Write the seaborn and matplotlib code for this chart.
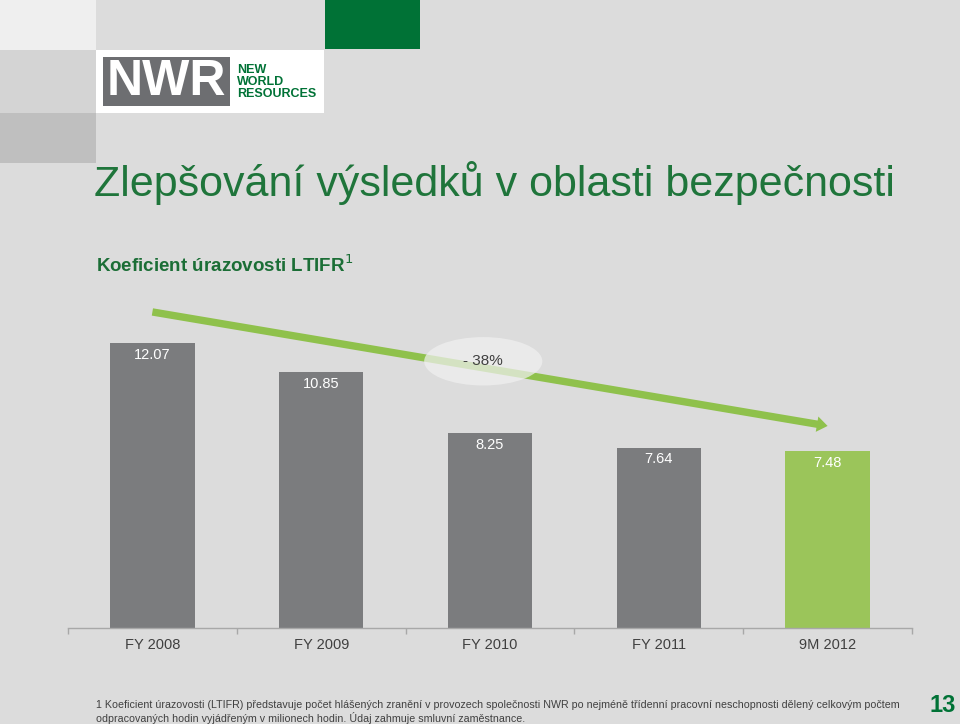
import matplotlib
matplotlib.use('Agg')
import matplotlib.pyplot as plt
from matplotlib.patches import Rectangle, Ellipse
import seaborn as sns
import pandas as pd

# --- Data ---
categories = ["FY 2008", "FY 2009", "FY 2010", "FY 2011", "9M 2012"]
ltifr = [12.07, 10.85, 8.25, 7.64, 7.48]
bar_colors = ["#7b7c7e", "#7b7c7e", "#7b7c7e", "#7b7c7e", "#9bc55a"]
change_label = "- 38%"

title = "Zlepšování výsledků v oblasti bezpečnosti"
subtitle = "Koeficient úrazovosti LTIFR$^{1}$"
footnote = ("1 Koeficient úrazovosti (LTIFR) představuje počet hlášených zranění v provozech "
            "společnosti NWR po nejméně třídenní pracovní neschopnosti dělený celkovým počtem\n"
            "odpracovaných hodin vyjádřeným v milionech hodin. Údaj zahmuje smluvní zaměstnance.")
page_no = "13"

BG = "#dcdcdc"
DARK_GREEN = "#007236"
TITLE_GREEN = "#1f753b"
ARROW_GREEN = "#8fc14c"
TEXT_GRAY = "#404040"

sns.set_style("white")
plt.rcParams['font.family'] = ["Liberation Sans", "DejaVu Sans"]

W, H = 960, 724
fig = plt.figure(figsize=(9.6, 7.24), dpi=100)
fig.patch.set_facecolor(BG)


def fx(px):
    return px / W


def fy(py):
    return 1 - py / H


def fig_rect(x0, y0, x1, y1, color):
    fig.add_artist(Rectangle((fx(x0), fy(y1)), fx(x1 - x0), (y1 - y0) / H,
                             transform=fig.transFigure, facecolor=color,
                             edgecolor="none"))


# ── decorative squares + logo
fig_rect(0, 0, 96, 50, "#efefef")
fig_rect(0, 50, 96, 113, "#d4d4d4")
fig_rect(0, 113, 96, 163, "#bfbfbf")
fig_rect(325, 0, 420, 49, DARK_GREEN)
fig_rect(96, 50, 324, 113, "#ffffff")
fig_rect(103, 57, 230, 106, "#6d6e71")
fig.text(fx(166), fy(82), "NWR", color="white", fontsize=36, fontweight="bold",
         ha="center", va="center")
fig.text(fx(237), fy(82), "NEW\nWORLD\nRESOURCES", color=DARK_GREEN, fontsize=9,
         fontweight="bold", ha="left", va="center", linespacing=1.0)

# ── titles
fig.text(fx(94), fy(183), title, color=TITLE_GREEN, fontsize=31,
         ha="left", va="center")
fig.text(fx(96), fy(265), subtitle, color="#1b6e36", fontsize=13.5,
         fontweight="bold", ha="left", va="center")

# ── bar chart
ax = fig.add_axes([fx(68), fy(628), fx(844), 321 / H])
ax.set_facecolor("none")
df = pd.DataFrame({"period": categories, "ltifr": ltifr})
sns.barplot(data=df, x="period", y="ltifr", hue="period", palette=bar_colors,
            width=0.5, legend=False, saturation=1, linewidth=0, ax=ax)
ax.set_xlim(-0.5, len(categories) - 0.5)
ax.set_ylim(0, 13.6)
ax.set_xlabel("")
ax.set_ylabel("")
ax.set_yticks([])
for s in ["top", "right", "left"]:
    ax.spines[s].set_visible(False)
ax.spines["bottom"].set_color("#a8a8a8")
ax.spines["bottom"].set_linewidth(1)
ax.set_xticks([i - 0.5 for i in range(len(categories) + 1)])
ax.set_xticklabels([])
ax.tick_params(axis="x", which="major", length=4, width=1, color="#a8a8a8",
               direction="out", bottom=True)
ax.set_xticks(range(len(categories)), minor=True)
ax.set_xticklabels(categories, minor=True)
ax.tick_params(axis="x", which="minor", length=0, pad=7, labelsize=10.5,
               labelcolor=TEXT_GRAY)

for i, v in enumerate(ltifr):
    ax.text(i, v - 0.5, f"{v:.2f}", color="white", fontsize=10.5, ha="center",
            va="center")

# trend arrow and change bubble
ax.annotate("", xy=(4.0, ltifr[-1] + 1.08), xytext=(0.0, ltifr[0] + 1.32),
            arrowprops=dict(arrowstyle="simple,tail_width=0.38,head_width=0.8,head_length=0.55",
                            mutation_scale=14, color=ARROW_GREEN, lw=0,
                            shrinkA=0, shrinkB=0),
            annotation_clip=False)
ax.add_patch(Ellipse((1.96, 11.3), 0.70, 2.05, facecolor="#f0f0f0", alpha=0.72,
                     edgecolor="none", clip_on=False, zorder=5))
ax.text(1.96, 11.3, change_label, color=TEXT_GRAY, fontsize=11, ha="center",
        va="center", zorder=6)

# ── footnote and page number
fig.text(fx(96), fy(712), footnote, color=TEXT_GRAY, fontsize=7.7, ha="left",
         va="center", linespacing=1.1)
fig.text(fx(943), fy(706), page_no, color=DARK_GREEN, fontsize=17,
         fontweight="bold", ha="center", va="center")

fig.savefig("out.png", dpi=100, facecolor=BG)
